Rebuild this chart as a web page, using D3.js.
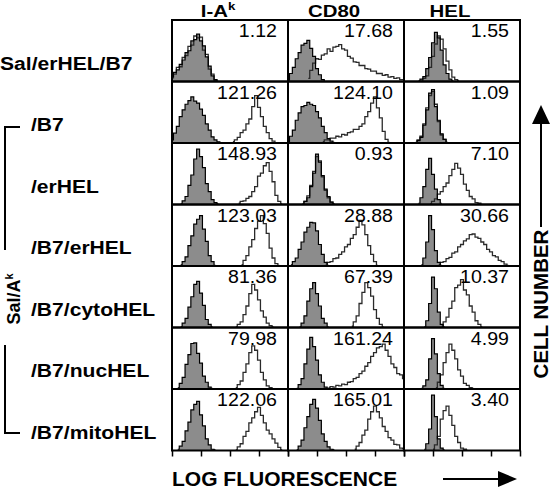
<!DOCTYPE html>
<html>
<head>
<meta charset="utf-8">
<script src="https://cdn.jsdelivr.net/npm/d3@7"></script>
<style>
  html, body { margin: 0; padding: 0; background: #fff; }
  svg { display: block; font-family: "Liberation Sans", Arial, Helvetica, sans-serif; }
</style>
</head>
<body>
<div id="chart"></div>
<script>
const width = 551;
const height = 490;

// rows (cell lines) and columns (stain)
const rowLabels = ["Sal/erHEL/B7", "/B7", "/erHEL", "/B7/erHEL", "/B7/cytoHEL", "/B7/nucHEL", "/B7/mitoHEL"];
const markers = ["I-A", "CD80", "HEL"];
const mfi = [
  [1.12, 17.68, 1.55],
  [121.26, 124.10, 1.09],
  [148.93, 0.93, 7.10],
  [123.03, 28.88, 30.66],
  [81.36, 67.39, 10.37],
  [79.98, 161.24, 4.99],
  [122.06, 165.01, 3.40]
];
const decadeTicks = [1, 10, 100, 1000, 10000];

// histograms: [first bin (tenths of a decade), counts as % of panel height ...]
const ctlIA = [
  [0, 8, 15, 19, 28, 35, 47, 50, 66, 68, 77, 66, 58, 40, 25, 9, 3, 0],
  [0, 5, 16, 27, 43, 54, 63, 69, 75, 68, 65, 55, 45, 31, 21, 10, 5, 2, 0],
  [3, 1, 6, 13, 31, 48, 74, 90, 78, 60, 34, 21, 8, 3, 1],
  [3, 2, 7, 15, 33, 49, 68, 76, 82, 60, 40, 17, 7, 1],
  [3, 1, 7, 15, 33, 50, 70, 75, 56, 36, 13, 5, 1],
  [2, 2, 9, 19, 40, 56, 74, 75, 58, 42, 21, 11, 3, 1],
  [2, 2, 7, 15, 32, 46, 66, 75, 80, 58, 40, 19, 9, 2, 1]
];
const stIA = [
  [0, 6, 12, 23, 24, 39, 42, 57, 59, 74, 71, 72, 51, 44, 20, 12, 2, 0],
  [21, 2, 5, 9, 17, 21, 31, 39, 59, 77, 58, 43, 27, 17, 7, 3, 0],
  [23, 2, 5, 6, 10, 13, 21, 29, 46, 51, 63, 68, 54, 37, 15, 5, 1],
  [24, 2, 9, 17, 31, 43, 61, 73, 82, 69, 53, 29, 13, 4, 1],
  [22, 1, 5, 9, 21, 35, 55, 70, 61, 45, 27, 17, 7, 3, 1],
  [22, 2, 7, 13, 27, 41, 59, 70, 63, 47, 27, 15, 5, 2, 0],
  [22, 1, 6, 11, 23, 31, 45, 53, 63, 70, 57, 45, 33, 27, 19, 12, 5, 1]
];
const ctlCD80 = [
  [0, 2, 13, 23, 37, 47, 59, 62, 67, 54, 41, 21, 11, 3, 0],
  [0, 2, 11, 21, 37, 49, 59, 61, 66, 63, 61, 51, 41, 27, 17, 7, 3, 1],
  [5, 1, 5, 11, 29, 51, 82, 69, 47, 25, 13, 4, 1],
  [1, 2, 7, 13, 27, 39, 55, 63, 71, 70, 57, 35, 19, 6, 1],
  [4, 1, 7, 19, 43, 63, 73, 55, 35, 15, 7, 1],
  [3, 1, 7, 17, 41, 65, 84, 69, 47, 23, 11, 3, 1],
  [3, 1, 7, 17, 37, 55, 75, 83, 69, 49, 27, 15, 6, 2, 1]
];
const stCD80 = [
  [7, 5, 18, 30, 37, 36, 43, 45, 53, 49, 56, 57, 60, 53, 51, 41, 38, 32, 31, 26, 26, 21, 20, 17, 17, 13, 13, 10, 11, 7, 8, 5, 6, 3, 3],
  [12, 2, 5, 5, 8, 8, 11, 10, 14, 13, 17, 18, 22, 22, 27, 31, 43, 51, 65, 75, 57, 41, 19, 6, 1],
  [5, 0, 5, 14, 31, 54, 78, 71, 45, 23, 11, 4, 1],
  [13, 3, 6, 7, 12, 13, 19, 23, 31, 35, 45, 51, 63, 74, 67, 51, 33, 19, 7, 1],
  [22, 2, 9, 19, 39, 57, 73, 65, 51, 29, 15, 5, 1],
  [14, 2, 4, 3, 6, 5, 8, 7, 11, 12, 17, 19, 25, 29, 37, 43, 53, 59, 67, 69, 73, 63, 53, 41, 35, 25, 23, 17],
  [23, 2, 7, 13, 25, 33, 51, 63, 72, 63, 53, 39, 31, 21, 17, 10, 9, 4, 3]
];
const ctlHEL = [
  [5, 1, 4, 8, 21, 39, 63, 80, 71, 51, 27, 13, 4, 1],
  [4, 1, 4, 9, 29, 54, 81, 87, 59, 37, 15, 6, 1],
  [5, 2, 11, 29, 57, 75, 49, 25, 8, 2],
  [6, 2, 13, 39, 82, 59, 25, 6, 1],
  [7, 1, 11, 39, 82, 63, 25, 5, 1],
  [6, 1, 5, 15, 49, 82, 57, 25, 6, 1],
  [7, 2, 11, 35, 90, 55, 19, 4, 1]
];
const stHEL = [
  [6, 1, 5, 9, 23, 41, 61, 74, 69, 53, 33, 19, 7, 3, 1],
  [4, 0, 5, 11, 31, 57, 77, 84, 63, 35, 13, 6, 1],
  [9, 1, 5, 9, 17, 21, 29, 35, 47, 57, 67, 59, 49, 33, 23, 13, 9, 3, 2, 0],
  [12, 2, 6, 7, 12, 14, 21, 23, 31, 35, 41, 44, 51, 52, 47, 45, 39, 35, 27, 23, 17, 15, 9, 7, 3, 1],
  [13, 2, 9, 17, 31, 43, 65, 69, 78, 61, 53, 35, 25, 11, 5, 1],
  [11, 2, 11, 23, 43, 59, 73, 63, 49, 31, 21, 9, 6, 2, 1],
  [10, 2, 9, 23, 51, 65, 72, 57, 41, 23, 13, 4, 2, 0]
];
const histograms = [[ctlIA, stIA], [ctlCD80, stCD80], [ctlHEL, stHEL]];

const svg = d3.select("#chart")
    .append("svg")
    .attr("width", width)
    .attr("height", height);

const col = d3.scaleBand().domain(markers).range([172, 520]);
const row = d3.scaleBand().domain(rowLabels).range([20, 450.5]);
const bw = col.bandwidth();
const bh = row.bandwidth();

// log fluorescence inside a panel, 4 decades
const x = d3.scaleLog().domain([1, 1e4]).range([0, bw]);
const y = d3.scaleLinear().domain([0, 100]).range([bh, 0]);

const toPoints = h => h.slice(1).map((n, i) => ({v: Math.pow(10, (h[0] + i) / 10), n: n}));
const area = d3.area().curve(d3.curveStep).x(d => x(d.v)).y0(bh).y1(d => y(d.n));
const line = d3.line().curve(d3.curveStep).x(d => x(d.v)).y(d => y(d.n));

svg.append("clipPath").attr("id", "panel-clip")
  .append("rect").attr("width", bw).attr("height", bh);

// text in the figure is a bit wide for its height
function wideText(parent, tx, ty, sx) {
  return parent.append("text").attr("transform", `translate(${tx},${ty}) scale(${sx},1)`);
}

const cells = [];
rowLabels.forEach((r, ri) => markers.forEach((m, ci) => cells.push({r, ri, m, ci})));

const panels = svg.selectAll("g.panel")
    .data(cells)
    .enter()
    .append("g")
    .attr("class", "panel")
    .attr("transform", d => `translate(${col(d.m)},${row(d.r)})`);

const plot = panels.append("g").attr("clip-path", "url(#panel-clip)");

// control (filled grey)
plot.append("path")
    .attr("d", d => area(toPoints(histograms[d.ci][0][d.ri])))
    .attr("fill", "#8c8c8c");

// stained sample (open)
plot.append("path")
    .attr("d", d => line(toPoints(histograms[d.ci][1][d.ri])))
    .attr("fill", "none")
    .attr("stroke", "#2a2a2a")
    .attr("stroke-width", 1.3);

plot.append("path")
    .attr("d", d => line(toPoints(histograms[d.ci][0][d.ri])))
    .attr("fill", "none")
    .attr("stroke", "#000")
    .attr("stroke-width", 1.2);

panels.each(function(d) {
  wideText(d3.select(this), bw - 11, 17, 1.12)
    .attr("text-anchor", "end")
    .attr("font-size", 17.5)
    .text(d3.format(".2f")(mfi[d.ri][d.ci]));
});

panels.append("rect")
    .attr("width", bw)
    .attr("height", bh)
    .attr("fill", "none")
    .attr("stroke", "#000")
    .attr("stroke-width", 2);

// decade ticks under each column
markers.forEach(m => {
  svg.append("g")
      .attr("transform", `translate(${col(m)},${row.range()[1]})`)
      .call(d3.axisBottom(x).tickValues(decadeTicks).tickSize(6).tickFormat(""))
      .call(g => g.select(".domain").remove())
      .call(g => g.selectAll("line").attr("stroke-width", 1.5));
});

// column headers
markers.forEach((m, i) => {
  const t = wideText(svg, col(m) + bw / 2 - 12, 17, 1.2)
      .attr("text-anchor", "middle")
      .attr("font-size", 17)
      .attr("font-weight", "bold")
      .text(m);
  if (i === 0) t.append("tspan").attr("dy", -7).attr("font-size", 11).text("k");
});

// row labels
rowLabels.forEach((r, i) => {
  wideText(svg, i === 0 ? 0 : 31, row(r) + bh / 2 + 19, 1.14)
      .attr("font-size", 18.5)
      .attr("font-weight", "bold")
      .text(r);
});

// Sal/A^k bracket
const bracket = svg.append("g").attr("stroke", "#000").attr("stroke-width", 2).attr("fill", "none");
bracket.append("path").attr("d", "M20,127H5V250");
bracket.append("path").attr("d", "M5,345V433H20");
const salText = svg.append("text")
    .attr("transform", "translate(20,299) rotate(-90)")
    .attr("text-anchor", "middle")
    .attr("font-size", 18)
    .attr("font-weight", "bold")
    .text("Sal/A");
salText.append("tspan").attr("dy", -7).attr("font-size", 11).text("k");

// axis titles with arrows
svg.append("text")
    .attr("x", 172)
    .attr("y", 486)
    .attr("font-size", 21)
    .attr("font-weight", "bold")
    .text("LOG FLUORESCENCE");
svg.append("line").attr("x1", 443).attr("x2", 500).attr("y1", 479).attr("y2", 479)
    .attr("stroke", "#000").attr("stroke-width", 2);
svg.append("path").attr("d", "M517,479L498,471V487Z").attr("fill", "#000");

svg.append("text")
    .attr("transform", "translate(548,304) rotate(-90)")
    .attr("text-anchor", "middle")
    .attr("font-size", 20.5)
    .attr("font-weight", "bold")
    .text("CELL NUMBER");
svg.append("line").attr("x1", 541).attr("x2", 541).attr("y1", 122).attr("y2", 227)
    .attr("stroke", "#000").attr("stroke-width", 2);
svg.append("path").attr("d", "M541,105L532,124H550Z").attr("fill", "#000");
</script>
</body>
</html>
